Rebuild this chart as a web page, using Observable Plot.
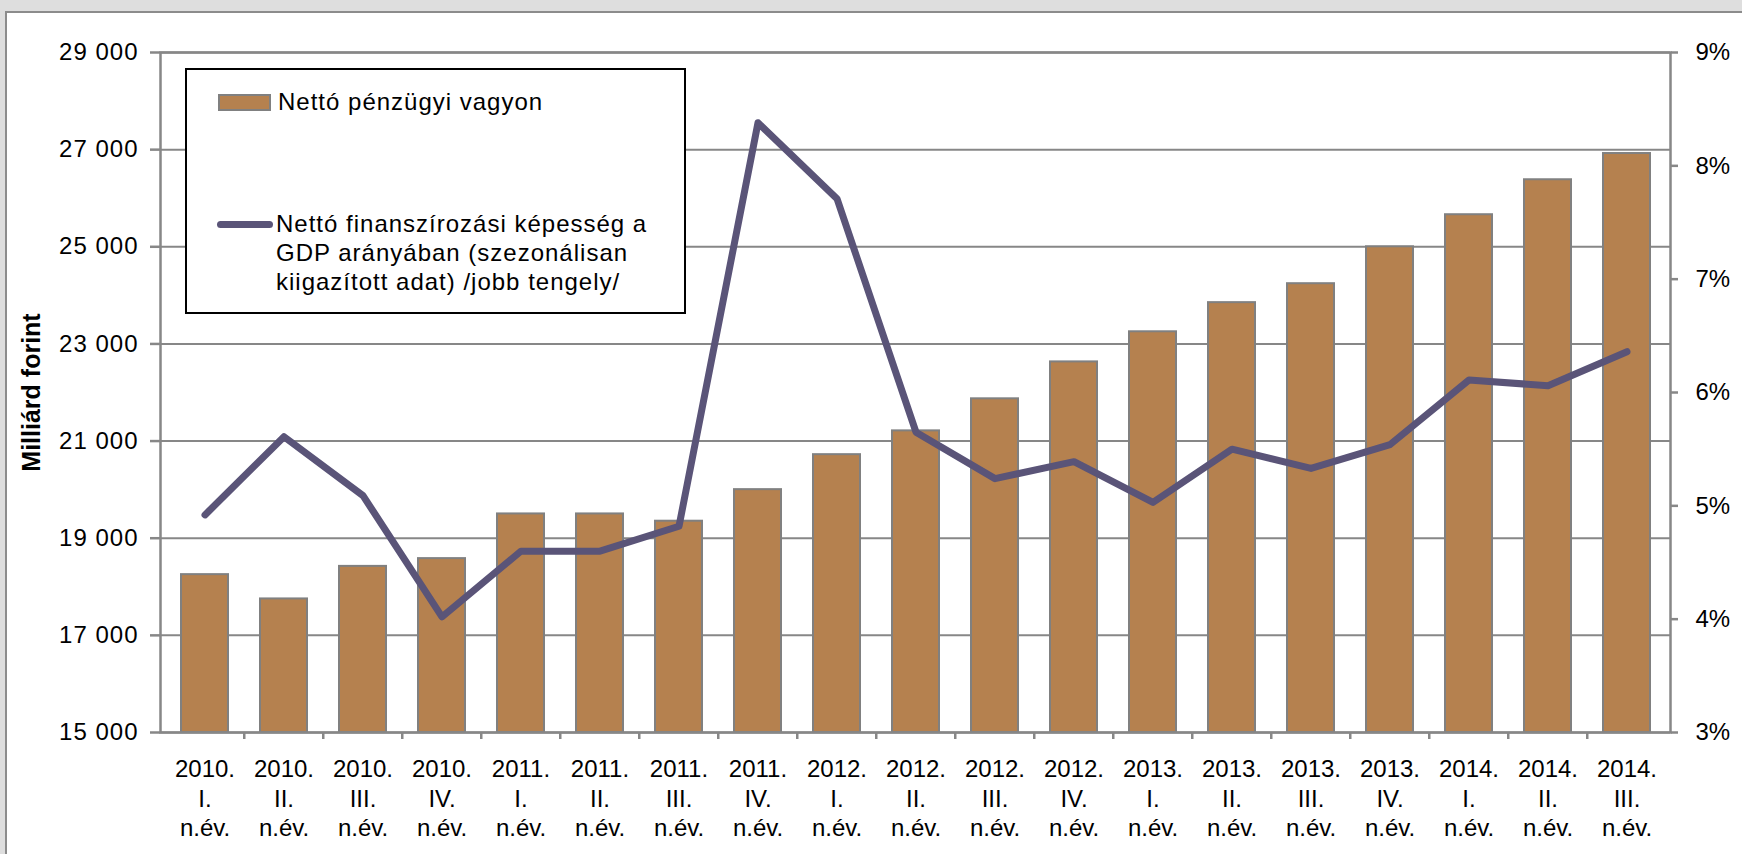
<!DOCTYPE html>
<html>
<head>
<meta charset="utf-8">
<script src="https://cdn.jsdelivr.net/npm/d3@7"></script>
<script src="https://cdn.jsdelivr.net/npm/@observablehq/plot@0.6"></script>
<style>
  html, body { margin: 0; padding: 0; }
  body { width: 1742px; height: 854px; background: #dedede; position: relative; overflow: hidden;
         font-family: "Liberation Sans", Arial, sans-serif; }
  #panel { position: absolute; left: 5px; top: 11px; width: 1745px; height: 850px; background: #fff;
           border-left: 2px solid #8c8c8c; border-top: 2px solid #8c8c8c; }
  #chart { position: absolute; left: 0; top: 0; }
  #chart .ytick text { letter-spacing: 1px; }
  #legend { position: absolute; left: 185px; top: 68px; width: 497px; height: 242px; background: #fff;
            border: 2.5px solid #000; color: #000; font-size: 24px; letter-spacing: 1px; }
  .sw-bar { position: absolute; left: 31px; top: 24px; width: 49px; height: 13px; background: #b5814f;
            border: 2px solid #808080; }
  .t1 { position: absolute; left: 91px; top: 17px; white-space: nowrap; line-height: 30px; }
  .sw-line { position: absolute; left: 30px; top: 151px; width: 56px; height: 7px; background: #5a5478;
             border-radius: 4px; }
  .t2 { position: absolute; left: 89px; top: 139px; white-space: nowrap; line-height: 29px; }
</style>
</head>
<body>
<div id="panel"></div>
<div id="chart"></div>
<div id="legend">
  <div class="sw-bar"></div>
  <div class="t1" id="lab1"></div>
  <div class="sw-line"></div>
  <div class="t2" id="lab2"></div>
</div>
<script>
// ---- data ----
const years = ["2010.","2010.","2010.","2010.","2011.","2011.","2011.","2011.","2012.","2012.","2012.","2012.","2013.","2013.","2013.","2013.","2014.","2014.","2014."];
const quarters = ["I.","II.","III.","IV.","I.","II.","III.","IV.","I.","II.","III.","IV.","I.","II.","III.","IV.","I.","II.","III."];
const netAssets = [18250, 17750, 18420, 18580, 19500, 19500, 19350, 20000, 20720, 21210, 21870, 22630, 23250, 23850, 24240, 25000, 25660, 26380, 26920];
const netLending = [4.92, 5.61, 5.09, 4.02, 4.60, 4.60, 4.82, 8.38, 7.71, 5.65, 5.24, 5.39, 5.03, 5.50, 5.33, 5.54, 6.11, 6.06, 6.36];
const leftTicks = [15000, 17000, 19000, 21000, 23000, 25000, 27000, 29000];
const rightTicks = [3, 4, 5, 6, 7, 8, 9];
const seriesNames = ["Nettó pénzügyi vagyon",
  "Nettó finanszírozási képesség a<br>GDP arányában (szezonálisan<br>kiigazított adat) /jobb tengely/"];
const yTitle = "Milliárd forint";

document.getElementById("lab1").innerHTML = seriesNames[0];
document.getElementById("lab2").innerHTML = seriesNames[1];

// ---- build ----
const cats = years.map((y, i) => `${y}\n${quarters[i]}\nn.év.`);
const rows = cats.map((c, i) => ({cat: c, assets: netAssets[i], pct: netLending[i]}));

const yMin = leftTicks[0], yMax = leftTicks[leftTicks.length - 1];
const pMin = rightTicks[0], pMax = rightTicks[rightTicks.length - 1];
const toLeft = p => yMin + (p - pMin) * (yMax - yMin) / (pMax - pMin);
const fromLeft = v => pMin + (v - yMin) * (pMax - pMin) / (yMax - yMin);

const W = 1742, H = 854, mL = 160, mR = 72, mT = 52, mB = 122;
const step = (W - mL - mR) / cats.length;
const gray = "#878787";
const font = `"Liberation Sans", Arial, sans-serif`;
const fmt = d => d3.format(",")(d).replace(/,/g, " ");

const chart = Plot.plot({
  width: W, height: H,
  marginLeft: mL, marginRight: mR, marginTop: mT, marginBottom: mB,
  style: {background: "transparent", fontFamily: font, fontSize: "24px", color: "#000", overflow: "visible"},
  x: {domain: cats, type: "band", paddingInner: 0.41, paddingOuter: 0.205, align: 0.5},
  y: {domain: [yMin, yMax]},
  marks: [
    Plot.gridY(leftTicks, {stroke: gray, strokeOpacity: 1, strokeWidth: 2}),
    Plot.barY(rows, {x: "cat", y1: () => yMin, y2: "assets", fill: "#b5814f", stroke: "#808080", strokeWidth: 2}),
    Plot.line(rows, {x: "cat", y: d => toLeft(d.pct), stroke: "#5a5478", strokeWidth: 7,
                     strokeLinejoin: "round", strokeLinecap: "round"}),
    Plot.frame({stroke: gray, strokeWidth: 2.5}),
    Plot.ruleX(cats.slice(1), {x: d => d, y1: () => yMin, y2: () => yMin, insetBottom: -7, dx: -step / 2,
                               stroke: gray, strokeWidth: 2.5}),
    Plot.axisY(leftTicks, {anchor: "left", tickSize: 10, tickPadding: 12, stroke: gray, strokeWidth: 2.5,
                           tickFormat: fmt, fontSize: 24, fill: "#000", label: null, className: "ytick"}),
    Plot.axisY(rightTicks.map(toLeft), {anchor: "right", tickSize: 7, tickPadding: 18, stroke: gray, strokeWidth: 2.5,
                           tickFormat: d => Math.round(fromLeft(d)) + "%", fontSize: 24, fill: "#000", label: null,
                           textAnchor: "start"}),
    Plot.axisX({tickSize: 0, tickPadding: 24, fontSize: 24, fill: "#000", lineHeight: 1.23, label: null,
                lineAnchor: "top"}),
    Plot.text([yTitle], {frameAnchor: "left", dx: -129, rotate: -90, text: d => d, fontWeight: "bold",
                         fontSize: 25, fill: "#000", textAnchor: "middle"})
  ]
});
document.getElementById("chart").appendChild(chart);
</script>
</body>
</html>
